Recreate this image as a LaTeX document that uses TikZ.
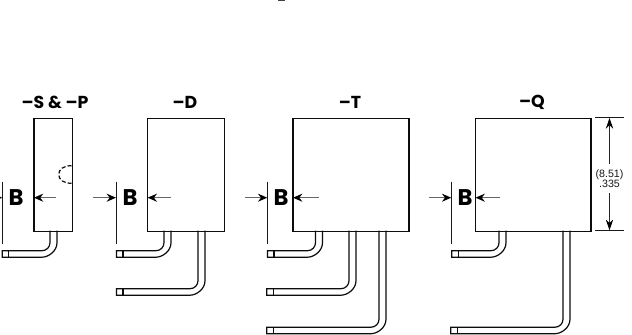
\documentclass[tikz,border=0pt]{standalone}
\usepackage{fontspec}
\setmainfont{Liberation Sans}
\newfontfamily\headfont{Poppins}[BoldFont={Poppins Bold}]
\usetikzlibrary{arrows.meta}
\tikzset{
  x=0.75pt,y=-0.75pt,
  body/.style={draw=black!95,line width=1pt,fill=white},
  wire/.style={draw=black!95,line width=0.9pt},
  thin line/.style={draw=black!90,line width=0.6pt},
  arrowline/.style={draw=black!60,line width=1.05pt,-{Stealth[length=7pt,width=6pt,black]}},
  dimarrow/.style={draw=black!85,line width=0.7pt,-{Stealth[length=8pt,width=5.5pt,black]}},
  head/.style={font=\fontsize{13pt}{15pt}\headfont\bfseries,inner sep=0pt},
  blabel/.style={font=\fontsize{17pt}{19pt}\headfont\bfseries,inner sep=0pt},
  dimlabel/.style={font=\fontsize{8pt}{7.7pt}\selectfont,inner sep=1pt,align=center,text=black!90}
}
% #1 vertical inner x, #2 horizontal top y, #3 left end, #4 box bottom
\newcommand{\leadwire}[4]{%
  \draw[wire] (#1,#4) -- (#1,#2-8) .. controls (#1,#2-3.6) and (#1-3.6,#2) .. (#1-8,#2) -- (#3,#2) -- (#3,#2+6.5) -- (#1-8,#2+6.5)
     .. controls (#1-1.6,#2+6.5) and (#1+7,#2+0.5) .. (#1+7,#2-8) -- (#1+7,#4);
  \draw[wire] (#3+6.5,#2) -- (#3+6.5,#2+6.5);
}
\begin{document}
\begin{tikzpicture}
\useasboundingbox (0,0) rectangle (632,335);
\fill[white] (0,0) rectangle (632,335);
% boxes
\node[body,minimum width=38.5*0.75pt,minimum height=113*0.75pt,inner sep=0pt,anchor=north west] (sbox) at (33.2,117.6) {};
\node[body,minimum width=77*0.75pt,minimum height=113*0.75pt,inner sep=0pt,anchor=north west] (dbox) at (147,117.6) {};
\node[body,minimum width=116*0.75pt,minimum height=113*0.75pt,inner sep=0pt,anchor=north west] (tbox) at (292.3,117.6) {};
\node[body,minimum width=115.6*0.75pt,minimum height=113*0.75pt,inner sep=0pt,anchor=north west] (qbox) at (474.7,117.6) {};
% headings
\node[head] (hs) at (55,102) {–S \& –P};
\node[head] (hd) at (185,102) {–D};
\node[head] (ht) at (350,102) {–T};
\node[head] (hq) at (532,102) {–Q};
% leads
\leadwire{50}{250.7}{2.2}{230.7}
\leadwire{164}{250.7}{116.5}{230.7}
\leadwire{198}{288.7}{116.5}{230.7}
\leadwire{315.5}{250.7}{267.5}{230.7}
\leadwire{349}{288.7}{266.7}{230.7}
\leadwire{379}{327.2}{266.7}{230.7}
\leadwire{499}{250.7}{451.7}{230.7}
\leadwire{563}{327.2}{450.8}{230.7}
% dashed notch
\draw[wire,dashed,dash pattern=on 3pt off 1.6pt] (71.5,165.7) .. controls (64,165.7) and (58.7,169) .. (58.7,174.5) .. controls (58.7,180) and (64,183.3) .. (71.5,183.3);
% B dimensions
\foreach \nm/\lx/\bx/\tx/\sx in {s/2.7/33.9/16/55.7,d/116.4/147.6/130/170.7,t/267.7/293/281/319,q/451.7/475.5/465/500}{
  \coordinate (top\nm) at (\lx,181.7);
  \coordinate (bot\nm) at (\lx,244);
  \draw[thin line] (top\nm) -- (bot\nm);
  \node[blabel] (b\nm) at (\tx,197.7) {B};
  \coordinate (ain\nm) at (\sx,197.7);
  \coordinate (aend\nm) at (\bx,197.7);
  \draw[arrowline] (ain\nm) -- (aend\nm);
  \coordinate (lin\nm) at (\lx-23,197.7);
  \coordinate (lend\nm) at (\lx-0.4,197.7);
  \draw[arrowline] (lin\nm) -- (lend\nm);
}
% height dimension
\coordinate (dt1) at (595,117.6);
\coordinate (dt2) at (623.7,117.6);
\coordinate (db1) at (595,230.7);
\coordinate (db2) at (623.7,230.7);
\draw[thin line] (dt1) -- (dt2);
\draw[thin line] (db1) -- (db2);
\node[dimlabel,minimum height=29*0.75pt] (dim) at (609.5,178.5) {(8.51)\\.335};
\draw[dimarrow] (dim.north) -- (609.5,118);
\draw[dimarrow] (dim.south) -- (609.5,230.3);
% clipped mark at the top edge
\fill[black!75] (278,0) rectangle (285,1.2);
\end{tikzpicture}
\end{document}
